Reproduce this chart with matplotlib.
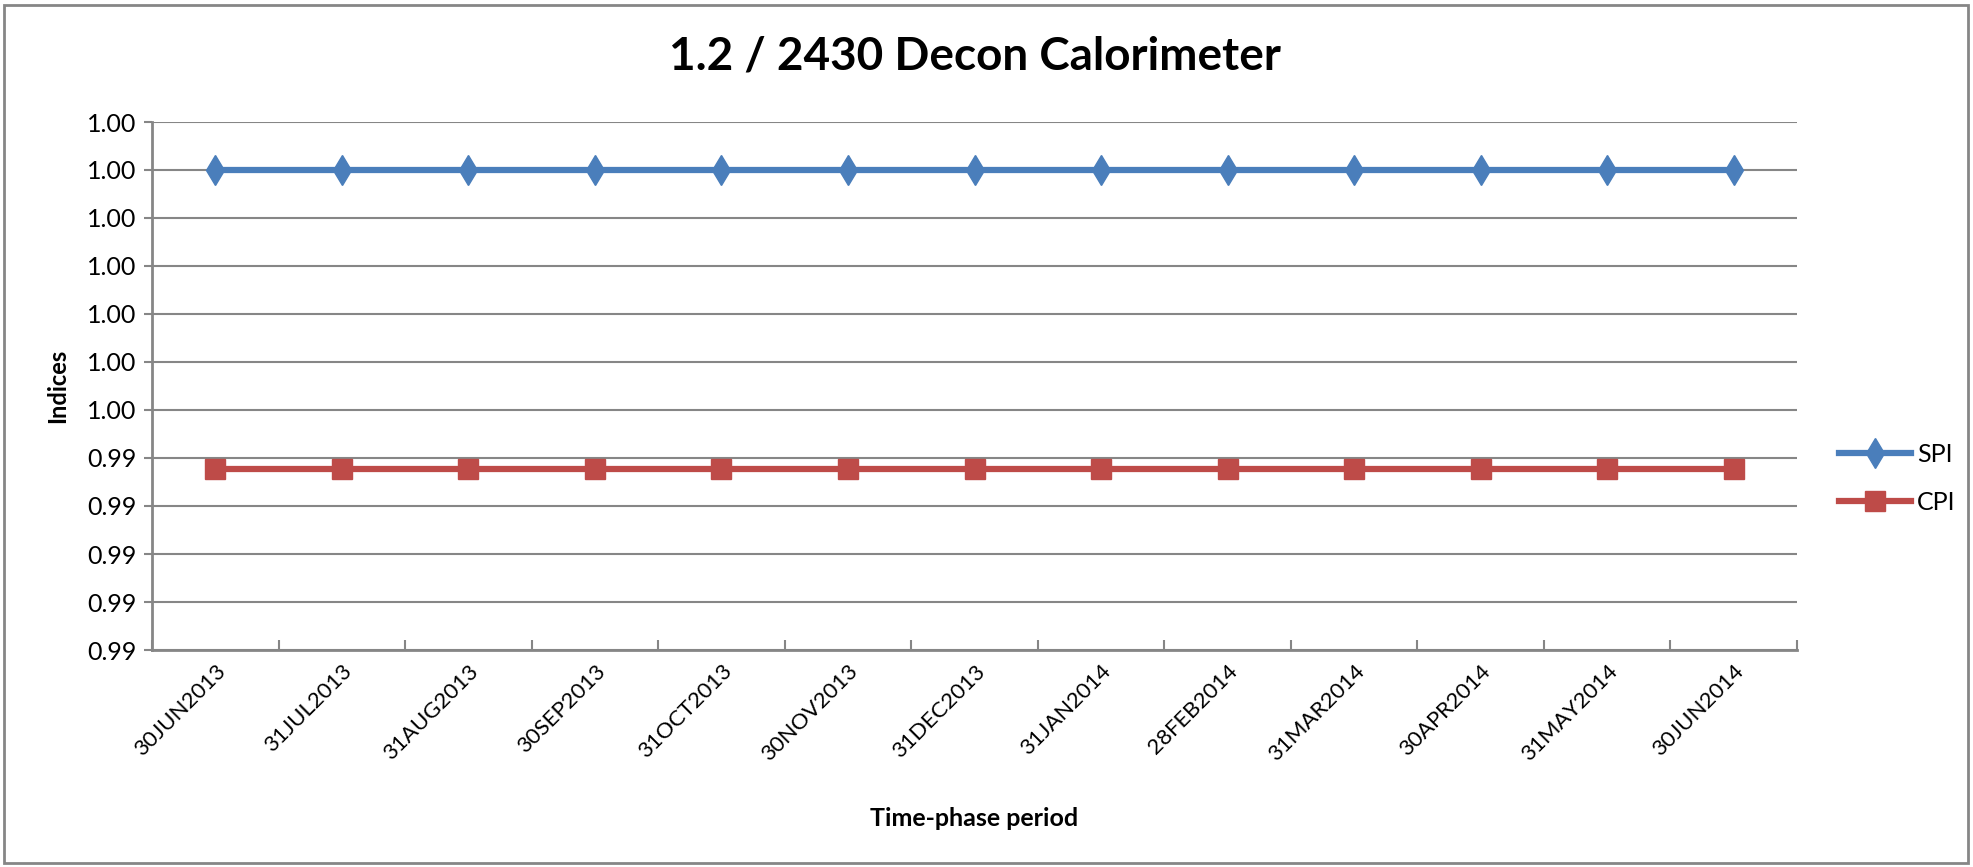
import matplotlib
matplotlib.use("Agg")
import matplotlib.pyplot as plt
from matplotlib.patches import Rectangle

plt.rcParams['font.family'] = ['Lato', 'DejaVu Sans']

categories = ["30JUN2013", "31JUL2013", "31AUG2013", "30SEP2013", "31OCT2013",
              "30NOV2013", "31DEC2013", "31JAN2014", "28FEB2014", "31MAR2014",
              "30APR2014", "31MAY2014", "30JUN2014"]
spi = [1.000] * 13
cpi = [0.99377] * 13
y_ticks = [1.001, 1.000, 0.999, 0.998, 0.997, 0.996, 0.995, 0.994, 0.993, 0.992, 0.991, 0.990]
y_tick_labels = ["1.00", "1.00", "1.00", "1.00", "1.00", "1.00", "1.00",
                 "0.99", "0.99", "0.99", "0.99", "0.99"]

W, H = 1973, 867
fig = plt.figure(figsize=(W / 100, H / 100), dpi=100)
ax = fig.add_axes([152 / W, 1 - 650 / H, (1797 - 152) / W, (650 - 122) / H])

grey = "#868686"
x = list(range(len(categories)))
ax.plot(x, spi, color="#4A7EBB", lw=4.5, marker="d", markersize=15, label="SPI", zorder=3)
ax.plot(x, cpi, color="#BE4B48", lw=4.5, marker="s", markersize=15, label="CPI", zorder=3)

ax.set_xlim(-0.5, len(categories) - 0.5)
ax.set_ylim(min(y_ticks), max(y_ticks))
ax.set_yticks(y_ticks)
ax.set_yticklabels(y_tick_labels)
ax.yaxis.grid(True, color=grey, lw=1.5)
ax.set_axisbelow(True)

ax.set_xticks(x)
ax.set_xticklabels(categories, rotation=45, ha="right", va="top", rotation_mode="anchor", fontsize=16)
ax.tick_params(axis="x", which="major", length=0, pad=8)
ax.set_xticks([i + 0.5 for i in range(-1, len(categories))], minor=True)
ax.tick_params(axis="x", which="minor", direction="in", length=7, width=1.5, color=grey)
ax.tick_params(axis="y", direction="out", length=6, width=1.5, color=grey, labelsize=18, pad=5)

for s in ["top", "right"]:
    ax.spines[s].set_visible(False)
for s in ["left", "bottom"]:
    ax.spines[s].set_color(grey)
    ax.spines[s].set_linewidth(2)

fig.text((152 + 1797) / 2 / W, 1 - 57 / H, "1.2 / 2430 Decon Calorimeter",
         ha="center", va="center", fontsize=33, fontweight="bold")
fig.text((152 + 1797) / 2 / W, 1 - 819 / H, "Time-phase period",
         ha="center", va="center", fontsize=18, fontweight="bold")
fig.text(58 / W, 1 - 386 / H, "Indices", ha="center", va="center",
         rotation=90, fontsize=17, fontweight="bold")

leg = fig.legend(loc="center left", bbox_to_anchor=(1816 / W, 1 - 478 / H),
                 frameon=False, fontsize=18, handlelength=2.9, labelspacing=1.0,
                 handletextpad=0.25)

fig.patches.append(Rectangle((4 / W, 4 / H), 1 - 9 / W, 1 - 9 / H, transform=fig.transFigure,
                             fill=False, edgecolor=grey, lw=2))

fig.savefig("out.png", dpi=100)
